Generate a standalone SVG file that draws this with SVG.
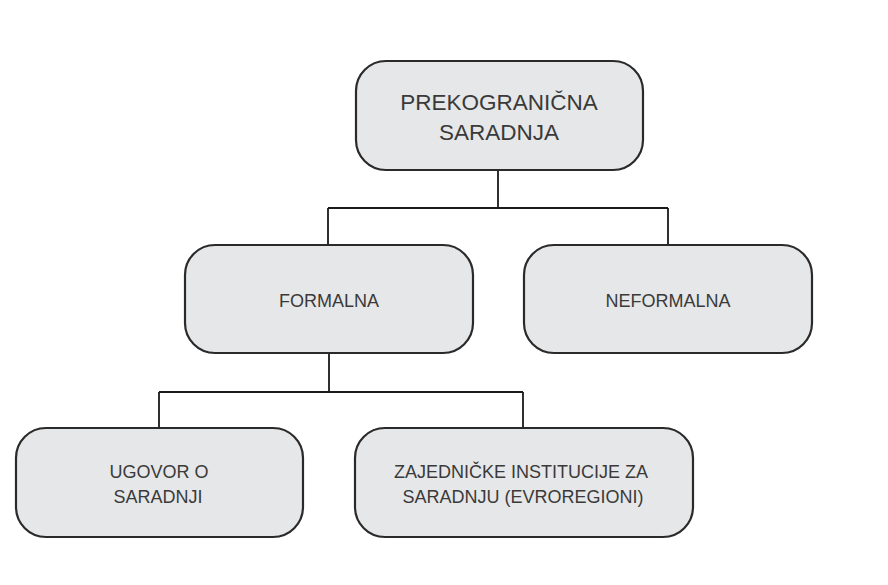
<svg xmlns="http://www.w3.org/2000/svg" width="888" height="585" viewBox="0 0 888 585">
  <style>
    .box { fill: #e6e7e8; stroke: #2a2a2a; stroke-width: 2.2; }
    .lbl { font-family: "Liberation Sans", Arial, sans-serif; fill: #3a3a3a; text-anchor: middle; }
    .big { font-size: 22.5px; }
    .sm { font-size: 18px; }
    .wire { fill: none; stroke: #1a1a1a; stroke-width: 1.8; }
  </style>
  <rect width="888" height="585" fill="#ffffff"/>

  <g id="connectors">
    <path class="wire" d="M498 170 V208 M328 208 H668 M328 208 V245 M668 208 V245"/>
    <path class="wire" d="M329 353 V392 M159 392 H523 M159 392 V428 M523 392 V428"/>
  </g>

  <g id="prekogranicna">
    <rect class="box" x="356" y="61" width="287" height="109" rx="30"/>
    <text class="lbl big" x="499" y="110">PREKOGRANIČNA</text>
    <text class="lbl big" x="499" y="140">SARADNJA</text>
  </g>

  <g id="formalna">
    <rect class="box" x="185" y="245" width="288" height="108" rx="30"/>
    <text class="lbl sm" x="329" y="307">FORMALNA</text>
  </g>

  <g id="neformalna">
    <rect class="box" x="524" y="245" width="288" height="108" rx="30"/>
    <text class="lbl sm" x="668" y="307">NEFORMALNA</text>
  </g>

  <g id="ugovor">
    <rect class="box" x="16" y="428" width="287" height="109" rx="30"/>
    <text class="lbl sm" x="159" y="478">UGOVOR O</text>
    <text class="lbl sm" x="158" y="503">SARADNJI</text>
  </g>

  <g id="zajednicke">
    <rect class="box" x="355" y="428" width="338" height="109" rx="30"/>
    <text class="lbl sm" x="521" y="478">ZAJEDNIČKE INSTITUCIJE ZA</text>
    <text class="lbl sm" x="523" y="503">SARADNJU (EVROREGIONI)</text>
  </g>
</svg>
